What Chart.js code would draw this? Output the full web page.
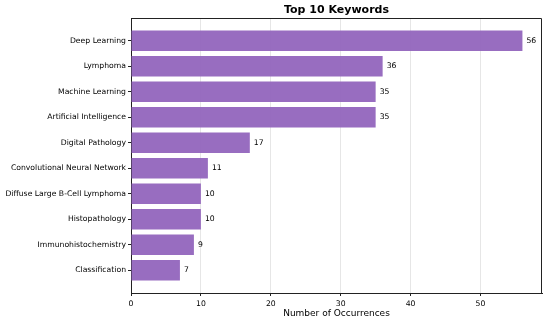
<!DOCTYPE html>
<html>
<head>
<meta charset="utf-8">
<script src="https://cdn.jsdelivr.net/npm/chart.js@4"></script>
<style>
    html, body { margin: 0; padding: 0; background: #fff; }
    #wrap { width: 550px; height: 322px; }
</style>
</head>
<body>
<div id="wrap"><canvas id="chart"></canvas></div>
<script>
const keywords = [
    "Deep Learning",
    "Lymphoma",
    "Machine Learning",
    "Artificial Intelligence",
    "Digital Pathology",
    "Convolutional Neural Network",
    "Diffuse Large B-Cell Lymphoma",
    "Histopathology",
    "Immunohistochemistry",
    "Classification",
];
const counts = [56, 36, 35, 35, 17, 11, 10, 10, 9, 7];
const xTicks = [0, 10, 20, 30, 40, 50];
const titleText = "Top 10 Keywords";

const FONT = "'DejaVu Sans', sans-serif";

// top + right spines (left/bottom come from the axis borders)
const framePlugin = {
    id: "frame",
    afterDraw(chart) {
        const { ctx, chartArea: a } = chart;
        ctx.save();
        ctx.strokeStyle = "#222";
        ctx.lineWidth = 1;
        ctx.beginPath();
        ctx.moveTo(a.left, a.top + 0.5);
        ctx.lineTo(a.right - 0.5, a.top + 0.5);
        ctx.lineTo(a.right - 0.5, a.bottom);
        ctx.stroke();
        ctx.restore();
    },
};

// title centred over the plot area, not the whole canvas
const axesTitle = {
    id: "axesTitle",
    afterDraw(chart) {
        const { ctx, chartArea: a } = chart;
        ctx.save();
        ctx.font = "bold 11px " + FONT;
        ctx.fillStyle = "#000";
        ctx.textAlign = "center";
        ctx.textBaseline = "middle";
        ctx.fillText(titleText, (a.left + a.right) / 2, 10);
        ctx.restore();
    },
};

// value labels at the end of each bar
const valueLabels = {
    id: "valueLabels",
    afterDatasetsDraw(chart) {
        const ctx = chart.ctx;
        const meta = chart.getDatasetMeta(0);
        ctx.save();
        ctx.font = "7.7px " + FONT;
        ctx.fillStyle = "#000";
        ctx.textBaseline = "middle";
        meta.data.forEach((bar, i) => {
            ctx.fillText(String(counts[i]), bar.x + 4, bar.y);
        });
        ctx.restore();
    },
};

new Chart(document.getElementById("chart"), {
    type: "bar",
    data: {
        datasets: [
            {
                data: counts.map((c, i) => ({ x: c, y: i })),
                backgroundColor: "rgba(148,103,189,0.96)",
                borderWidth: 0,
                barPercentage: 0.8,
                categoryPercentage: 1,
            },
        ],
    },
    options: {
        indexAxis: "y",
        responsive: true,
        maintainAspectRatio: false,
        animation: false,
        layout: { padding: { right: 8, left: 0, top: 18, bottom: 0 } },
        plugins: {
            legend: { display: false },
            tooltip: { enabled: false },
            title: { display: false },
        },
        scales: {
            x: {
                type: "linear",
                min: 0,
                max: 58.8,
                afterBuildTicks: (s) => {
                    s.ticks = xTicks.map((v) => ({ value: v }));
                },
                afterFit: (s) => {
                    s.height = 29;
                },
                ticks: {
                    color: "#000",
                    font: { family: FONT, size: 7.7 },
                    padding: 3,
                },
                grid: {
                    color: "#e6e6e6",
                    tickColor: "#222",
                    tickLength: 3,
                },
                border: { color: "#222", width: 1 },
                title: {
                    display: true,
                    text: "Number of Occurrences",
                    color: "#000",
                    font: { family: FONT, size: 9 },
                    padding: { top: 0, bottom: 3 },
                },
            },
            y: {
                type: "linear",
                reverse: true,
                offset: false,
                min: -0.89,
                max: 9.89,
                afterBuildTicks: (s) => {
                    s.ticks = keywords.map((_, i) => ({ value: i }));
                },
                afterFit: (s) => {
                    s.width = 131;
                },
                ticks: {
                    color: "#000",
                    font: { family: FONT, size: 7.7 },
                    padding: 2,
                    callback: (v) => keywords[v],
                },
                grid: {
                    drawOnChartArea: false,
                    offset: false,
                    tickColor: "#222",
                    tickLength: 3,
                },
                border: { color: "#222", width: 1 },
            },
        },
    },
    plugins: [valueLabels, framePlugin, axesTitle],
});
</script>
</body>
</html>
